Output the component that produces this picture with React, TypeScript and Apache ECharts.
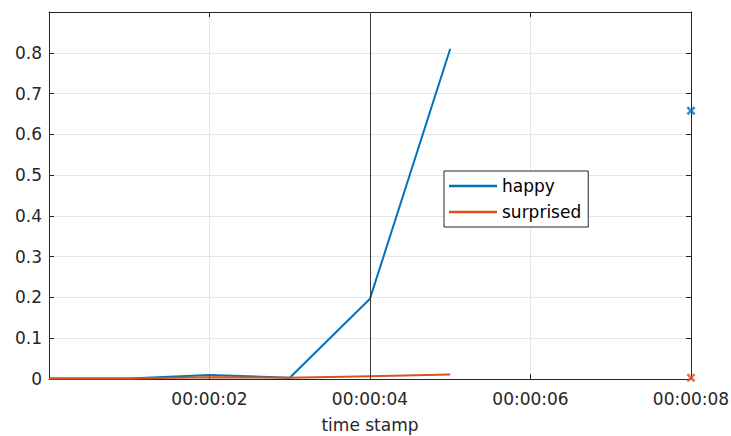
import React, { useEffect, useRef } from "react";
import * as echarts from "echarts";

const timeSeconds = [0, 1, 2, 3, 4, 5];
const happyValues = [0.001, 0.001, 0.01, 0.003, 0.197, 0.81];
const surprisedValues = [0.001, 0.001, 0.004, 0.003, 0.007, 0.011];
const markerTime = 8;
const happyMarker = 0.658;
const surprisedMarker = 0.003;
const cursorTime = 4;
const seriesNames = ["happy", "surprised"];
const seriesColors = ["#0072BD", "#D95319"];

const FONT = "DejaVu Sans";
const AX = "#262626";
const X_SYMBOL = "path://M0,2 L2,0 L5,3 L8,0 L10,2 L7,5 L10,8 L8,10 L5,7 L2,10 L0,8 L3,5 Z";

const fmtTime = (v: number) => {
  if (v === 0) return "";
  const s = Math.round(v);
  return "00:00:" + String(s).padStart(2, "0");
};

export default function App() {
  const ref = useRef<HTMLDivElement>(null);
  useEffect(() => {
    if (!ref.current) return;
    const chart = echarts.init(ref.current, null, { renderer: "svg" });
    const axisCommon = {
      axisLine: { show: true, onZero: false, lineStyle: { color: AX, width: 1 } },
      axisTick: { show: true, inside: true, length: 5, lineStyle: { color: AX } },
    };
    chart.setOption({
      animation: false,
      backgroundColor: "#ffffff",
      grid: { left: 49, right: 40, top: 12, bottom: 57, containLabel: false, outerBoundsMode: "none" },
      legend: {
        data: seriesNames,
        orient: "vertical",
        left: 444,
        top: 171,
        padding: [5, 7, 5, 5],
        itemWidth: 48,
        itemHeight: 2.5,
        itemGap: 6,
        icon: "rect",
        backgroundColor: "#ffffff",
        borderColor: AX,
        borderWidth: 1,
        borderRadius: 0,
        textStyle: { fontFamily: FONT, fontSize: 17, color: "#000", lineHeight: 20 },
      },
      xAxis: [
        {
          type: "value",
          min: 0,
          max: 8,
          interval: 2,
          position: "bottom",
          name: "time stamp",
          nameLocation: "middle",
          nameGap: 37,
          nameTextStyle: { fontFamily: FONT, fontSize: 17, color: AX },
          ...axisCommon,
          axisLabel: { formatter: fmtTime, fontFamily: FONT, fontSize: 17, color: AX, margin: 11 },
          splitLine: { show: true, lineStyle: { color: "#e6e6e6", width: 1 } },
        },
        {
          type: "value",
          min: 0,
          max: 8,
          interval: 2,
          position: "top",
          ...axisCommon,
          axisLabel: { show: false },
          splitLine: { show: false },
        },
      ],
      yAxis: [
        {
          type: "value",
          min: 0,
          max: 0.9,
          interval: 0.1,
          position: "left",
          ...axisCommon,
          axisLabel: {
            formatter: (v: number) => (v >= 0.85 ? "" : v === 0 ? "0" : v.toFixed(1)),
            fontFamily: FONT,
            fontSize: 17,
            color: AX,
            margin: 7,
          },
          splitLine: { show: true, lineStyle: { color: "#e6e6e6", width: 1 } },
        },
        {
          type: "value",
          min: 0,
          max: 0.9,
          interval: 0.1,
          position: "right",
          ...axisCommon,
          axisLabel: { show: false },
          splitLine: { show: false },
        },
      ],
      series: [
        {
          name: seriesNames[0],
          type: "line",
          data: timeSeconds.map((t, i) => [t, happyValues[i]]),
          showSymbol: false,
          symbol: "none",
          lineStyle: { color: seriesColors[0], width: 2 },
          itemStyle: { color: seriesColors[0] },
          markLine: {
            silent: true,
            symbol: "none",
            label: { show: false },
            lineStyle: { color: "#3a3a3a", width: 1, type: "solid" },
            data: [{ xAxis: cursorTime }],
          },
        },
        {
          name: seriesNames[1],
          type: "line",
          data: timeSeconds.map((t, i) => [t, surprisedValues[i]]),
          showSymbol: false,
          symbol: "none",
          lineStyle: { color: seriesColors[1], width: 2 },
          itemStyle: { color: seriesColors[1] },
        },
        {
          name: "happy marker",
          type: "scatter",
          data: [[markerTime, happyMarker]],
          symbol: X_SYMBOL,
          symbolSize: 9,
          itemStyle: { color: seriesColors[0] },
          z: 5,
        },
        {
          name: "surprised marker",
          type: "scatter",
          data: [[markerTime, surprisedMarker]],
          symbol: X_SYMBOL,
          symbolSize: 9,
          itemStyle: { color: seriesColors[1] },
          z: 5,
        },
      ],
    });
    return () => chart.dispose();
  }, []);
  return <div ref={ref} style={{ width: 731, height: 436, position: "absolute", left: 0, top: 0 }} />;
}
